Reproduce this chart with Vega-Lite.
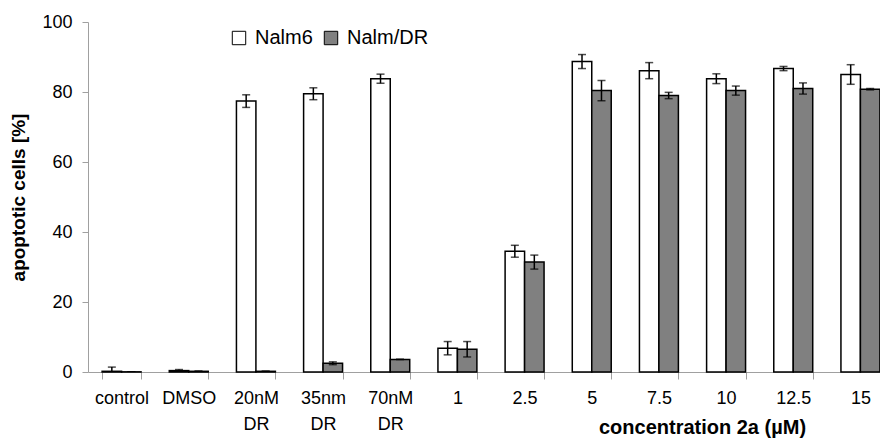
{
  "$schema": "https://vega.github.io/schema/vega-lite/v6.json",
  "autosize": "none",
  "width": 806,
  "height": 350,
  "padding": {"left": 88, "top": 22, "right": 0, "bottom": 68},
  "background": "white",
  "config": {
    "font": "Liberation Sans",
    "view": {"stroke": null}
  },
  "data": {
    "values": [
      {"cat": "control", "line": "Nalm6", "v": 0.2, "e": 1.2},
      {"cat": "control", "line": "Nalm/DR", "v": 0.05, "e": 0},
      {"cat": "DMSO", "line": "Nalm6", "v": 0.4, "e": 0.3},
      {"cat": "DMSO", "line": "Nalm/DR", "v": 0.2, "e": 0.1},
      {"cat": "20nM DR", "line": "Nalm6", "v": 77.4, "e": 1.8},
      {"cat": "20nM DR", "line": "Nalm/DR", "v": 0.2, "e": 0},
      {"cat": "35nm DR", "line": "Nalm6", "v": 79.5, "e": 1.7},
      {"cat": "35nm DR", "line": "Nalm/DR", "v": 2.5, "e": 0.4},
      {"cat": "70nM DR", "line": "Nalm6", "v": 83.8, "e": 1.3},
      {"cat": "70nM DR", "line": "Nalm/DR", "v": 3.6, "e": 0},
      {"cat": "1", "line": "Nalm6", "v": 6.8, "e": 1.9},
      {"cat": "1", "line": "Nalm/DR", "v": 6.5, "e": 2.2},
      {"cat": "2.5", "line": "Nalm6", "v": 34.5, "e": 1.7},
      {"cat": "2.5", "line": "Nalm/DR", "v": 31.4, "e": 2.0},
      {"cat": "5", "line": "Nalm6", "v": 88.7, "e": 2.0},
      {"cat": "5", "line": "Nalm/DR", "v": 80.4, "e": 2.9},
      {"cat": "7.5", "line": "Nalm6", "v": 86.1, "e": 2.3},
      {"cat": "7.5", "line": "Nalm/DR", "v": 79.0, "e": 0.9},
      {"cat": "10", "line": "Nalm6", "v": 83.8, "e": 1.4},
      {"cat": "10", "line": "Nalm/DR", "v": 80.4, "e": 1.3},
      {"cat": "12.5", "line": "Nalm6", "v": 86.7, "e": 0.6},
      {"cat": "12.5", "line": "Nalm/DR", "v": 81.0, "e": 1.6},
      {"cat": "15", "line": "Nalm6", "v": 85.0, "e": 2.8},
      {"cat": "15", "line": "Nalm/DR", "v": 80.8, "e": 0.2}
    ]
  },
  "encoding": {
    "x": {
      "field": "cat",
      "type": "nominal",
      "sort": null,
      "scale": {"paddingInner": 0.42, "paddingOuter": 0.21},
      "axis": {
        "title": "concentration 2a (µM)",
        "titleFontSize": 20,
        "titleFontWeight": "bold",
        "titleColor": "black",
        "titleX": 614,
        "titleY": 45,
        "titleAlign": "center",
        "labelAngle": 0,
        "labelFontSize": 18,
        "labelColor": "black",
        "labelPadding": 10,
        "labelLineHeight": 26,
        "labelExpr": "split(datum.label, ' ')",
        "tickBand": "extent",
        "tickSize": 7,
        "tickColor": "#a0a0a0",
        "domainColor": "#a0a0a0"
      }
    },
    "y": {
      "field": "v",
      "type": "quantitative",
      "scale": {"domain": [0, 100], "nice": false},
      "axis": {
        "title": "apoptotic cells [%]",
        "titleFontSize": 19,
        "titleFontWeight": "bold",
        "titleColor": "black",
        "titlePadding": 13,
        "values": [0, 20, 40, 60, 80, 100],
        "grid": false,
        "labelFontSize": 18,
        "labelColor": "black",
        "labelPadding": 10,
        "tickSize": 6,
        "tickColor": "#a0a0a0",
        "domainColor": "#a0a0a0"
      }
    },
    "xOffset": {"field": "line", "sort": ["Nalm6", "Nalm/DR"], "scale": {"paddingInner": 0}}
  },
  "layer": [
    {
      "mark": {"type": "bar", "stroke": "black", "strokeWidth": 1.5},
      "encoding": {
        "fill": {
          "field": "line",
          "type": "nominal",
          "sort": ["Nalm6", "Nalm/DR"],
          "scale": {"domain": ["Nalm6", "Nalm/DR"], "range": ["#ffffff", "#808080"]},
          "legend": {
            "title": null,
            "orient": "none",
            "direction": "horizontal",
            "legendX": 141,
            "legendY": 6,
            "symbolType": "square",
            "symbolSize": 180,
            "symbolStrokeColor": "black",
            "symbolStrokeWidth": 1,
            "labelFontSize": 20,
            "labelColor": "black",
            "columnPadding": 8,
            "labelOffset": 6
          }
        }
      }
    },
    {
      "mark": {"type": "errorbar", "color": "black", "thickness": 1.5, "clip": true, "ticks": {"size": 8, "thickness": 1.5, "color": "black"}},
      "encoding": {
        "y": {"field": "v", "type": "quantitative"},
        "yError": {"field": "e"}
      }
    }
  ]
}
